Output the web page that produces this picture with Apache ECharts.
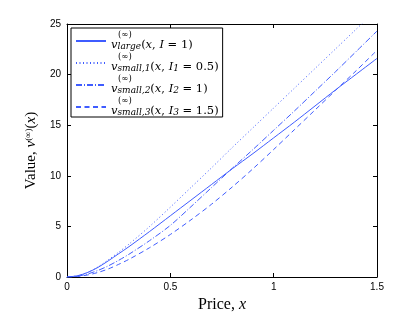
<!DOCTYPE html>
<html>
<head>
<meta charset="utf-8">
<script src="https://cdn.jsdelivr.net/npm/echarts@6/dist/echarts.min.js"></script>
<style>html,body{margin:0;padding:0;background:#fff;}#c{width:415px;height:312px;}</style>
</head>
<body>
<div id="c"></div>
<script>
// Price x
const prices = [0, 0.05, 0.1, 0.15, 0.2, 0.25, 0.3, 0.4, 0.5, 0.6, 0.7, 0.8, 0.9, 1.0, 1.1, 1.2, 1.3, 1.4, 1.5];
// v_large (x, I = 1)
const vLarge = [0, 0.12, 0.45, 0.95, 1.6, 2.3, 3.0, 4.5, 6.05, 7.6, 9.15, 10.7, 12.2, 13.75, 15.3, 16.9, 18.5, 20.05, 21.6];
// v_small,1 (x, I1 = 0.5)
const vSmall1 = [0, 0.12, 0.45, 1.0, 1.7, 2.45, 3.25, 5.0, 6.9, 8.85, 10.8, 12.8, 14.75, 16.7, 18.65, 20.6, 22.55, 24.5, 26.45];
// v_small,2 (x, I2 = 1)
const vSmall2 = [0, 0.08, 0.3, 0.65, 1.1, 1.65, 2.25, 3.6, 5.1, 6.95, 8.85, 10.75, 12.6, 14.5, 16.4, 18.35, 20.3, 22.3, 24.3];
// v_small,3 (x, I3 = 1.5)
const vSmall3 = [0, 0.05, 0.2, 0.45, 0.8, 1.25, 1.75, 2.9, 4.2, 5.65, 7.2, 8.9, 10.7, 12.6, 14.55, 16.5, 18.45, 20.4, 22.4];
const xTicks = [0, 0.5, 1, 1.5];
const yTicks = [0, 5, 10, 15, 20, 25];
const seriesNames = ['large', 'small1', 'small2', 'small3'];
const legendTexts = {
  large: '{sp|}{sup|(∞)}\n{v|v}{sub|large}{t|(}{i|x}{t|, }{i|I}{t| = 1)}',
  small1: '{sp|}{sup|(∞)}\n{v|v}{sub|small,1}{t|(}{i|x}{t|, }{i|I}{sub|1}{t| = 0.5)}',
  small2: '{sp|}{sup|(∞)}\n{v|v}{sub|small,2}{t|(}{i|x}{t|, }{i|I}{sub|2}{t| = 1)}',
  small3: '{sp|}{sup|(∞)}\n{v|v}{sub|small,3}{t|(}{i|x}{t|, }{i|I}{sub|3}{t| = 1.5)}'
};

const serif = 'Liberation Serif';
const lserif = 'DejaVu Serif';
const blue = '#3f5cff';
const pairs = arr => prices.map((p, i) => [p, arr[i]]);

const chart = echarts.init(document.getElementById('c'), null, {renderer: 'canvas'});
const axisCommon = {
  type: 'value',
  axisLine: {show: true, onZero: false, lineStyle: {color: '#000', width: 1}},
  axisTick: {show: true, inside: true, length: 4, lineStyle: {color: '#000'}},
  splitLine: {show: false}
};
const lineSeries = (name, data, type, color) => ({
  name: name, type: 'line', data: pairs(data), showSymbol: false, symbol: 'none', symbolSize: 0,
  smooth: 0.3, clip: true,
  lineStyle: {color: color, width: 1, type: type},
  itemStyle: {color: color}
});
chart.setOption({
  animation: false,
  backgroundColor: '#fff',
  grid: {left: 67, right: 38, top: 24, bottom: 35, containLabel: false, outerBoundsMode: 'none'},
  xAxis: [
    Object.assign({}, axisCommon, {
      min: 0, max: 1.5, interval: 0.5, position: 'bottom',
      axisLabel: {color: '#000', fontFamily: 'Liberation Sans', fontSize: 10, margin: 5,
        formatter: v => xTicks.includes(v) ? String(v) : ''},
      name: 'Price, {i|x}', nameLocation: 'middle', nameGap: 16,
      nameTextStyle: {color: '#000', fontFamily: serif, fontSize: 16,
        rich: {i: {fontFamily: serif, fontStyle: 'italic', fontSize: 16, color: '#000'}}}
    }),
    Object.assign({}, axisCommon, {min: 0, max: 1.5, interval: 0.5, position: 'top', axisLabel: {show: false}})
  ],
  yAxis: [
    Object.assign({}, axisCommon, {
      min: 0, max: 25, interval: 5, position: 'left',
      axisLabel: {color: '#000', fontFamily: 'Liberation Sans', fontSize: 10, margin: 6,
        formatter: v => yTicks.includes(v) ? String(v) : ''},
      name: '{t|Value, }{i|v}{sup|(∞)}{t|(}{i|x}{t|)}', nameLocation: 'middle', nameGap: 11,
      nameTextStyle: {color: '#000', fontFamily: serif, fontSize: 15,
        rich: {
          t: {fontFamily: serif, fontSize: 15, color: '#000'},
          i: {fontFamily: serif, fontStyle: 'italic', fontSize: 15, color: '#000'},
          sup: {fontFamily: serif, fontSize: 9, color: '#000', verticalAlign: 'top'}
        }}
    }),
    Object.assign({}, axisCommon, {min: 0, max: 25, interval: 5, position: 'right', axisLabel: {show: false}})
  ],
  legend: {
    orient: 'vertical', left: 71, top: 28, padding: [1, 4, 0, 4],
    itemWidth: 30, itemHeight: 18, itemGap: 0,
    backgroundColor: '#fff', borderColor: '#000', borderWidth: 1, borderRadius: 0,
    itemStyle: {opacity: 0},
    data: seriesNames,
    formatter: n => legendTexts[n],
    textStyle: {
      color: '#000', fontFamily: lserif, fontSize: 11.5,
      rich: {
        sp: {width: 7, height: 8, lineHeight: 8},
        sup: {fontFamily: lserif, fontSize: 8.5, lineHeight: 8, color: '#000'},
        v: {fontFamily: lserif, fontStyle: 'italic', fontSize: 11.5, lineHeight: 12, color: '#000'},
        i: {fontFamily: lserif, fontStyle: 'italic', fontSize: 11.5, lineHeight: 12, color: '#000'},
        t: {fontFamily: lserif, fontSize: 11.5, lineHeight: 12, color: '#000'},
        sub: {fontFamily: lserif, fontStyle: 'italic', fontSize: 9, lineHeight: 12, verticalAlign: 'bottom', color: '#000'}
      }
    }
  },
  series: [
    lineSeries('large', vLarge, 'solid', blue),
    lineSeries('small1', vSmall1, [1, 2.5], blue),
    lineSeries('small2', vSmall2, [6, 2, 1, 2], blue),
    lineSeries('small3', vSmall3, [5, 3.5], blue)
  ]
});
</script>
</body>
</html>
